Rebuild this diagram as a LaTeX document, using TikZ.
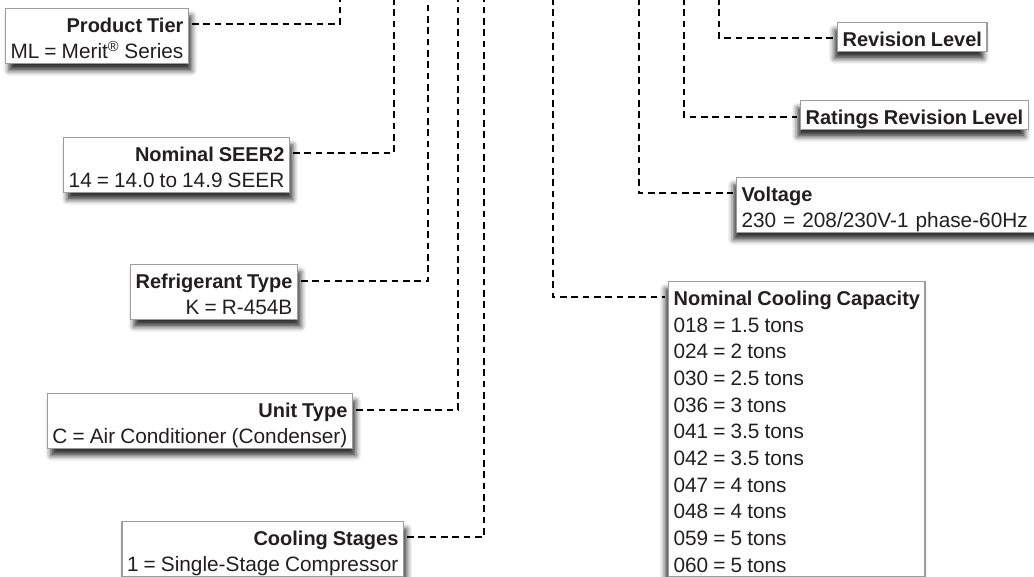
\documentclass[tikz,border=0pt]{standalone}
\usepackage{fontspec}
\setmainfont{Liberation Sans}[WordSpace=0.88]
\usetikzlibrary{calc,shadows.blur}

\definecolor{inkdark}{HTML}{231F20}
\definecolor{boxgray}{HTML}{9C9C9C}
\newcommand{\boxhead}[1]{\rule{0pt}{18pt}{\fontsize{15}{19.5}\selectfont\bfseries #1}}
\newcommand{\boxend}{\rule[-3.5pt]{0pt}{3.5pt}}

\tikzset{every picture/.style={line width=0.75pt}}
\tikzset{
  codebox/.style={draw=boxgray, line width=0.9pt, fill=white,
    inner xsep=3.75pt, inner ysep=0pt, text=inkdark, font=\fontsize{15.6}{19.5}\selectfont},
  lbox/.style={codebox, anchor=north east, align=right,
    blur shadow={shadow xshift=2.5pt, shadow yshift=-5.5pt, shadow blur radius=4pt, shadow opacity=80}},
  rbox/.style={codebox, anchor=north west, align=left,
    blur shadow={shadow xshift=-2.5pt, shadow yshift=-5.5pt, shadow blur radius=4pt, shadow opacity=80}},
  codeline/.style={draw=black, line width=1.5pt, dash pattern={on 5pt off 3.5pt}},
}

\begin{document}
\begin{tikzpicture}[x=0.75pt,y=0.75pt,yscale=-1,xscale=1]
	\path[use as bounding box] (0,0) rectangle (1034,576);
	\clip (0,0) rectangle (1034,576);
	
	% code positions along the top edge
	\coordinate (t1) at (340,-2);
	\coordinate (t2) at (394,-2);
	\coordinate (t3) at (428,-2);
	\coordinate (t4) at (458,-2);
	\coordinate (t5) at (484,-2);
	\coordinate (t6) at (553,-2);
	\coordinate (t7) at (639,-2);
	\coordinate (t8) at (684,-2);
	\coordinate (t9) at (719,-2);
	
	% Text Node
	\node [lbox] (tier) at (189,8) {\boxhead{Product Tier}\\ML = Merit\textsuperscript{\textregistered} Series\boxend};
	% Text Node
	\node [lbox] (seer) at (290,137) {\boxhead{Nominal SEER2}\\14 = 14.0 to 14.9 SEER\boxend};
	% Text Node
	\node [lbox] (refrig) at (298,264) {\boxhead{Refrigerant Type}\\K = R-454B\boxend};
	% Text Node
	\node [lbox] (unit) at (353,393) {\boxhead{Unit Type}\\C = Air Conditioner (Condenser)\boxend};
	% Text Node
	\node [lbox] (stages) at (404,521) {\boxhead{Cooling Stages}\\1 = Single-Stage Compressor\boxend};
	% Text Node
	\node [rbox] (rev) at (837,22) {\boxhead{Revision Level}\boxend};
	% Text Node
	\node [rbox] (ratings) at (800,100) {\boxhead{Ratings Revision Level}\boxend};
	% Text Node
	\node [rbox, text width=232pt] (volt) at (736,177) {\boxhead{Voltage}\\230 = 208/230V-1 phase-60Hz\boxend};
	% Text Node
	\node [rbox, font=\fontsize{15.6}{20}\selectfont] (cap) at (668,281) {\boxhead{Nominal Cooling Capacity}\\018 = 1.5 tons\\024 = 2 tons\\030 = 2.5 tons\\036 = 3 tons\\041 = 3.5 tons\\042 = 3.5 tons\\047 = 4 tons\\048 = 4 tons\\059 = 5 tons\\060 = 5 tons\boxend};
	
	%Straight Lines
	\draw [codeline] ($(tier.north east)+(3,16)$) -| (t1);
	\draw [codeline] ($(seer.north east)+(3,16)$) -| (t2);
	\draw [codeline] ($(refrig.north east)+(3,17)$) -| (t3);
	\draw [codeline] ($(unit.north east)+(3,17)$) -| (t4);
	\draw [codeline] ($(stages.north east)+(3,16)$) -| (t5);
	\draw [codeline] (t6) |- ($(cap.north west)+(-3,16)$);
	\draw [codeline] (t7) |- ($(volt.north west)+(-3,16)$);
	\draw [codeline] (t8) |- ($(ratings.north west)+(-3,17)$);
	\draw [codeline] (t9) |- ($(rev.north west)+(-3,16)$);
	
\end{tikzpicture}
\end{document}
